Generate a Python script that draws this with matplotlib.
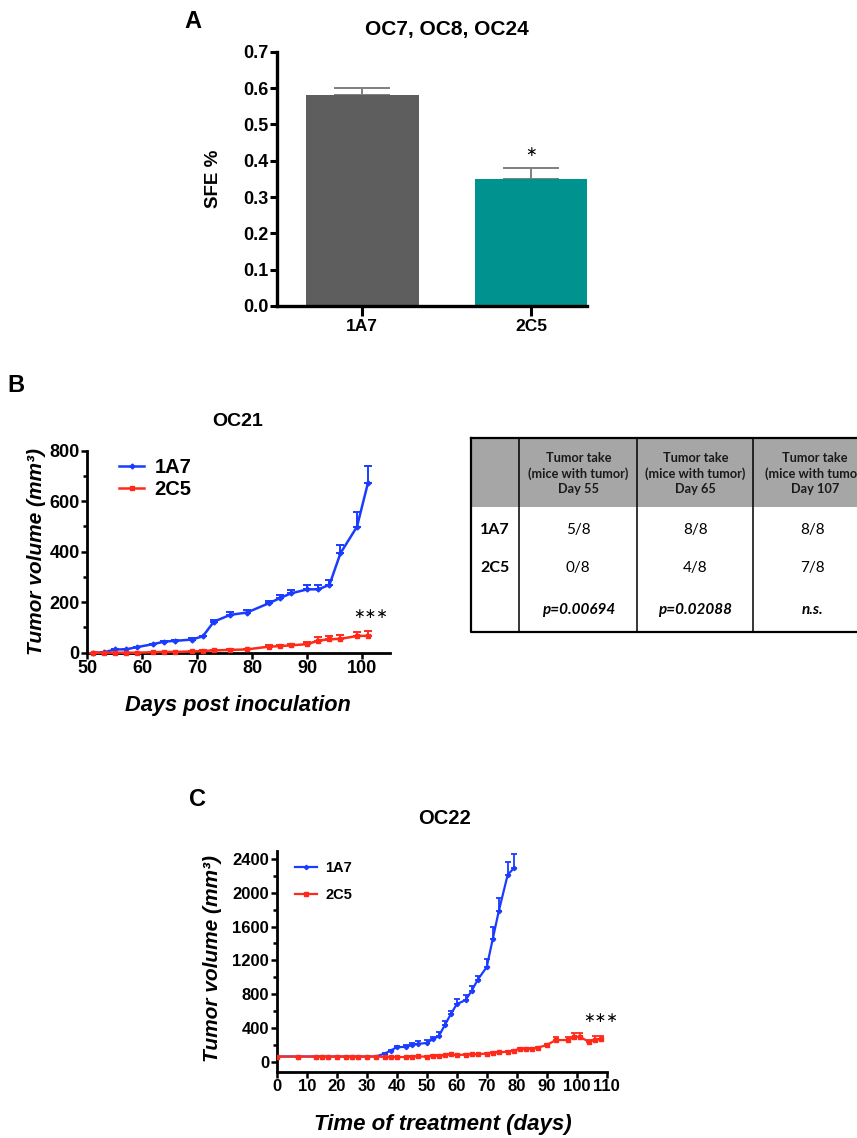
import matplotlib
matplotlib.use('Agg')
import matplotlib.pyplot as plt
import numpy as np

plt.rcParams['font.family'] = ['Liberation Sans', 'DejaVu Sans']
plt.rcParams['font.weight'] = 'bold'

# ---------------- data ----------------
# Panel A
a_groups = ['1A7', '2C5']
a_sfe = [0.58, 0.35]
a_err = [0.02, 0.03]

# Panel B (OC21)
b_days = [51, 53, 55, 57, 59, 62, 64, 66, 69, 71, 73, 76, 79, 83, 85, 87, 90, 92, 94, 96, 99, 101]
b_1a7 = [0, 1, 13, 13, 22, 34, 44, 47, 52, 65, 123, 150, 159, 196, 216, 235, 251, 251, 269, 394, 499, 673]
b_1a7_err = [0, 1, 3, 2, 2, 2, 3, 3, 8, 3, 7, 10, 12, 10, 12, 12, 17, 17, 19, 33, 59, 66]
b_2c5 = [0, 0, 0, 0, 0, 2, 3, 3, 5, 7, 9, 11, 13, 24, 26, 29, 34, 48, 53, 55, 66, 67]
b_2c5_err = [0, 0, 0, 0, 0, 1, 1, 1, 2, 3, 2, 3, 3, 5, 6, 7, 8, 14, 14, 15, 15, 17]

# Panel C (OC22)
c_days_1a7 = [0, 7, 13, 15, 17, 20, 23, 25, 27, 30, 33, 36, 38, 40, 43, 45, 47, 50, 52, 54,
              56, 58, 60, 63, 65, 67, 70, 72, 74, 77, 79]
c_1a7 = [60, 60, 60, 60, 60, 60, 60, 60, 60, 60, 60, 95, 130, 170, 175, 195, 210, 220, 265, 300,
         430, 560, 680, 730, 840, 970, 1120, 1450, 1780, 2215, 2290]
c_1a7_err = [0, 0, 0, 0, 0, 0, 0, 0, 0, 0, 0, 5, 8, 15, 20, 20, 35, 30, 25, 45,
             50, 40, 60, 60, 60, 40, 100, 145, 160, 150, 165]
c_days_2c5 = [0, 7, 13, 15, 17, 20, 23, 25, 27, 30, 33, 36, 38, 40, 43, 45, 47, 50, 52, 54,
              56, 58, 60, 63, 65, 67, 70, 72, 74, 77, 79, 81, 83, 85, 87, 90, 93, 97, 99, 101,
              104, 106, 108]
c_2c5 = [60, 60, 60, 60, 60, 60, 60, 60, 60, 60, 60, 55, 55, 55, 52, 58, 62, 58, 68, 68,
         75, 85, 78, 82, 85, 88, 95, 105, 108, 118, 130, 150, 148, 150, 165, 195, 255, 255, 290, 295,
         235, 255, 268]
c_2c5_err = [0, 0, 0, 0, 0, 0, 0, 0, 0, 0, 0, 3, 3, 3, 3, 3, 3, 3, 5, 5,
             5, 5, 5, 5, 5, 5, 8, 8, 8, 8, 10, 10, 10, 10, 10, 15, 40, 40, 50, 47,
             20, 47, 35]

# Table (panel B)
tbl_header = ['Tumor take\n(mice with tumor)\nDay 55',
              'Tumor take\n(mice with tumor)\nDay 65',
              'Tumor take\n(mice with tumor)\nDay 107']
tbl_rows = ['1A7', '2C5', '']
tbl_1a7 = ['5/8', '8/8', '8/8']
tbl_2c5 = ['0/8', '4/8', '7/8']
tbl_p = ['p=0.00694', 'p=0.02088', 'n.s.']

BLUE = '#1a3cff'
RED = '#ff2a1a'

# ---------------- figure ----------------
W, H = 857, 1138
fig = plt.figure(figsize=(W / 100, H / 100), dpi=100)


def rect(l, t, r, b):
    return [l / W, 1 - b / H, (r - l) / W, (b - t) / H]


def ftext(x, y, s, **kw):
    fig.text(x / W, 1 - y / H, s, **kw)


def style_axes(ax, lw, ticklen, tickw, fs, xfs=None):
    for s in ['top', 'right']:
        ax.spines[s].set_visible(False)
    for s in ['left', 'bottom']:
        ax.spines[s].set_linewidth(lw)
    ax.tick_params(which='major', direction='out', length=ticklen, width=tickw,
                   labelsize=fs, pad=1)
    if xfs is not None:
        ax.tick_params(axis='x', labelsize=xfs)
    ax.tick_params(which='minor', direction='out', length=ticklen * 0.6, width=tickw)


# ---------- Panel A ----------
axA = fig.add_axes(rect(276.7, 51.7, 587.3, 306))
xa = np.arange(len(a_groups))
axA.bar(xa, a_sfe, width=0.668, color=['#5e5e5e', '#00928e'], zorder=2)
axA.errorbar(xa, a_sfe, yerr=[np.zeros(len(a_sfe)), a_err], fmt='none', ecolor='#7f7f7f',
             elinewidth=1.4, capsize=20, capthick=1.4, zorder=1)
axA.set_xlim(-0.507, 1.334)
axA.set_ylim(0, 0.7)
axA.set_yticks(np.arange(0, 0.71, 0.1))
axA.set_yticklabels([f'{v:.1f}' for v in np.arange(0, 0.71, 0.1)])
axA.set_xticks(xa)
axA.set_xticklabels(a_groups, fontweight='bold')
style_axes(axA, 2.4, 5, 2.2, 13, xfs=12.5)
axA.tick_params(axis='x', length=7.5, pad=2)
axA.set_ylabel('SFE %', fontsize=13.5, fontweight='bold')
axA.yaxis.set_label_coords(-0.176, 0.5)
axA.text(xa[1], a_sfe[1] + a_err[1] + 0.045, '∗', ha='center', va='center', fontsize=10,
         family='DejaVu Sans', fontweight='normal')
ftext(193, 22, 'A', fontsize=17, fontweight='bold', ha='center', va='center')
ftext(447, 29, 'OC7, OC8, OC24', fontsize=15, fontweight='bold', ha='center', va='center')

# ---------- Panel B ----------
axB = fig.add_axes(rect(87.3, 450.7, 390, 652.7))
eb1 = axB.errorbar(b_days, b_1a7, yerr=[np.zeros(len(b_1a7)), b_1a7_err], color=BLUE, lw=1.8,
                   marker='D', ms=2.5, capsize=2.8, elinewidth=1.4, capthick=1.4,
                   clip_on=False, zorder=3)
eb2 = axB.errorbar(b_days, b_2c5, yerr=[np.zeros(len(b_2c5)), b_2c5_err], color=RED, lw=1.8,
                   marker='s', ms=2.5, capsize=2.8, elinewidth=1.4, capthick=1.4,
                   clip_on=False, zorder=4)
axB.set_xlim(50, 105)
axB.set_ylim(0, 800)
axB.set_xticks(np.arange(50, 101, 10))
axB.set_yticks(np.arange(0, 801, 200))
axB.set_yticks(np.arange(100, 800, 200), minor=True)
style_axes(axB, 2.0, 4.5, 1.8, 13)
axB.set_ylabel('Tumor volume (mm³)', fontsize=15, fontweight='bold', fontstyle='italic')
axB.yaxis.set_label_coords(-0.135, 0.5)
axB.set_xlabel('Days post inoculation', fontsize=15.7, fontweight='bold', fontstyle='italic')
axB.xaxis.set_label_coords(0.499, -0.21)
axB.text(101.5, 153, '∗∗∗', ha='center', va='center', fontsize=10, family='DejaVu Sans',
         fontweight='normal')
axB.legend([eb1[0], eb2[0]], ['1A7', '2C5'], loc='upper left', bbox_to_anchor=(0.105, 0.965),
           frameon=False, borderpad=0, borderaxespad=0, handlelength=1.25, handletextpad=0.5,
           labelspacing=0.15, prop={'weight': 'bold', 'size': 14.5})
ftext(16, 385, 'B', fontsize=17, fontweight='bold', ha='center', va='center')
ftext(238, 422, 'OC21', fontsize=14, fontweight='bold', ha='center', va='center')

# ---------- Table ----------
tx = [471, 519.3, 637.3, 753.3, 871]
t_top, t_hdr, t_bot = 438.3, 507.3, 632.3
row_y = [530, 568.3, 610]
axT = fig.add_axes(rect(tx[0], t_top, tx[-1], t_bot))
axT.set_xlim(tx[0], tx[-1])
axT.set_ylim(t_bot, t_top)
axT.axis('off')
axT.fill_between([tx[0], tx[-1]], t_top, t_hdr, color='#a6a6a6', lw=0)
for xv in tx[1:-1]:
    axT.plot([xv, xv], [t_top, t_bot], color='black', lw=1.1)
axT.plot([tx[0], tx[-1], tx[-1], tx[0], tx[0]], [t_top, t_top, t_bot, t_bot, t_top],
         color='black', lw=1.6, clip_on=False)
for i, h in enumerate(tbl_header):
    xc = (tx[i + 1] + tx[i + 2]) / 2 + (3 if i == 2 else 0)
    axT.text(xc, (t_top + t_hdr) / 2 + 1, h, ha='center', va='center', fontsize=9.2,
             fontweight='bold', family='Lato', linespacing=1.3, color='#1a1a1a')
xc0 = (tx[0] + tx[1]) / 2
for r, lab in enumerate(tbl_rows):
    axT.text(xc0, row_y[r], lab, ha='center', va='center', fontsize=11.5, fontweight='bold',
             family='Lato')
for i in range(3):
    xc = (tx[i + 1] + tx[i + 2]) / 2
    axT.text(xc, row_y[0], tbl_1a7[i], ha='center', va='center', fontsize=11, family='Lato',
             fontweight='normal')
    axT.text(xc, row_y[1], tbl_2c5[i], ha='center', va='center', fontsize=11, family='Lato',
             fontweight='normal')
    axT.text(xc, row_y[2], tbl_p[i], ha='center', va='center', fontsize=11, family='Lato',
             fontweight='bold', fontstyle='italic')

# ---------- Panel C ----------
axC = fig.add_axes(rect(276.7, 850.7, 606.7, 1071.7))
ec1 = axC.errorbar(c_days_1a7, c_1a7, yerr=[np.zeros(len(c_1a7)), c_1a7_err], color=BLUE, lw=1.6,
                   marker='D', ms=2.2, capsize=2.4, elinewidth=1.3, capthick=1.3, zorder=3)
ec2 = axC.errorbar(c_days_2c5, c_2c5, yerr=[np.zeros(len(c_2c5)), c_2c5_err], color=RED, lw=1.6,
                   marker='s', ms=2.2, capsize=2.4, elinewidth=1.3, capthick=1.3, zorder=4)
axC.set_xlim(0, 110)
axC.set_ylim(-120, 2500)
axC.set_xticks(np.arange(0, 111, 10))
axC.set_yticks(np.arange(0, 2401, 400))
axC.set_yticks(np.arange(200, 2500, 400), minor=True)
style_axes(axC, 2.0, 4.5, 1.8, 12)
axC.set_ylabel('Tumor volume (mm³)', fontsize=15, fontweight='bold', fontstyle='italic')
axC.yaxis.set_label_coords(-0.166, 0.51)
axC.set_xlabel('Time of treatment (days)', fontsize=16, fontweight='bold', fontstyle='italic')
axC.xaxis.set_label_coords(0.502, -0.19)
axC.text(108, 515, '∗∗∗', ha='center', va='center', fontsize=10, family='DejaVu Sans',
         fontweight='normal')
axC.legend([ec1[0], ec2[0]], ['1A7', '2C5'], loc='upper left', bbox_to_anchor=(0.055, 0.952),
           frameon=False, borderpad=0, borderaxespad=0, handlelength=1.5, handletextpad=0.58,
           labelspacing=0.85, prop={'weight': 'bold', 'size': 10.5})
ftext(198, 800, 'C', fontsize=17, fontweight='bold', ha='center', va='center')
ftext(444, 818, 'OC22', fontsize=14.5, fontweight='bold', ha='center', va='center')

for ax in (axA, axB, axC):
    for lab in ax.get_xticklabels() + ax.get_yticklabels():
        lab.set_fontweight('bold')

fig.savefig('out.png', dpi=100)
